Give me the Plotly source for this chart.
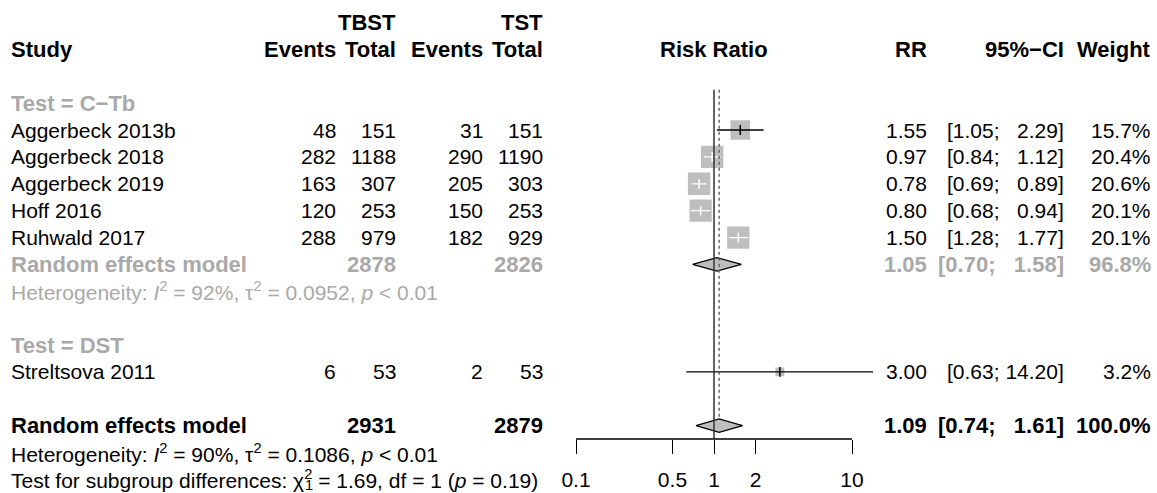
import plotly.graph_objects as go
import math

# ---------------- data ----------------
studies = ["Aggerbeck 2013b", "Aggerbeck 2018", "Aggerbeck 2019", "Hoff 2016",
           "Ruhwald 2017", "Streltsova 2011"]
groups = ["C−Tb", "C−Tb", "C−Tb", "C−Tb", "C−Tb", "DST"]
ev_tbst = [48, 282, 163, 120, 288, 6]
n_tbst = [151, 1188, 307, 253, 979, 53]
ev_tst = [31, 290, 205, 150, 182, 2]
n_tst = [151, 1190, 303, 253, 929, 53]
rr = [1.55, 0.97, 0.78, 0.80, 1.50, 3.00]
ci_lo = [1.05, 0.84, 0.69, 0.68, 1.28, 0.63]
ci_hi = [2.29, 1.12, 0.89, 0.94, 1.77, 14.20]
weight = [15.7, 20.4, 20.6, 20.1, 20.1, 3.2]

# subgroup random effects (only C−Tb has >1 study)
sub_names = ["C−Tb"]
sub_n_tbst = [2878]
sub_n_tst = [2826]
sub_rr = [1.05]
sub_lo = [0.70]
sub_hi = [1.58]
sub_w = [96.8]
sub_i2 = [92]
sub_tau2 = [0.0952]

# overall
tot_n_tbst = 2931
tot_n_tst = 2879
tot_rr = 1.09
tot_lo = 0.74
tot_hi = 1.61
tot_w = 100.0
tot_i2 = 90
tot_tau2 = 0.1086
test_chi2 = 1.69
test_df = 1
test_p = 0.19

tick_vals = [0.1, 0.5, 1, 2, 10]
tick_text = ["0.1", "0.5", "1", "2", "10"]

# ---------------- layout constants ----------------
W, H = 1157, 493
ROW0, ROWH = 22.5, 26.88          # pixel centre of row 0 and row height
X1_PX, PX_DEC = 714.0, 138.0      # pixel of RR = 1, pixels per decade
AXIS_PX = 439.0
FONT = "Liberation Sans, Arial, Helvetica, sans-serif"
FS = 21
FS_B = 22
GRAY_TXT = "#A9A9A9"
GRAY_FILL = "#BEBEBE"

COL_STUDY, COL_EV1, COL_N1, COL_EV2, COL_N2 = 10, 337, 397, 484, 544
COL_RR, COL_CI, COL_W = 928, 1065, 1152
CHI_SUB_PX = 304  # x of the stacked subscript under chi's superscript

SQ_K = 4.95  # square side (px) per sqrt(weight)
DIAM_H = 0.25  # diamond half height in rows

def px_to_row(p):
    return (p - ROW0) / ROWH

xr_lo, xr_hi = -1.25, 1.3
dom_lo = (X1_PX + xr_lo * PX_DEC) / W
dom_hi = (X1_PX + xr_hi * PX_DEC) / W

fig = go.Figure()
ann = []

def txt(text, xpx, row, anchor="left", bold=False, color="black", size=None):
    if size is None:
        size = FS_B if bold else FS
    if bold:
        text = f"<b>{text}</b>"
    ann.append(dict(text=text, x=xpx / W, xref="paper", y=row, yref="y",
                    xanchor=anchor, yanchor="middle", showarrow=False, borderpad=0,
                    font=dict(family=FONT, size=size, color=color)))

NB = "\u00a0"
maxw = max(len(f"{v:.2f}") for v in ci_hi + sub_hi + [tot_hi])

def fmt_ci(lo, hi):
    h = f"{hi:.2f}"
    pad = NB * (2 * (maxw - len(h)))
    return f"[{lo:.2f};{NB}{pad}{h}]"

# ---------------- headers ----------------
txt("TBST", COL_N1, 0, "right", True)
txt("TST", COL_N2, 0, "right", True)
txt("Study", COL_STUDY, 1, "left", True)
txt("Events", COL_EV1, 1, "right", True)
txt("Total", COL_N1, 1, "right", True)
txt("Events", COL_EV2, 1, "right", True)
txt("Total", COL_N2, 1, "right", True)
txt("Risk Ratio", X1_PX, 1, "center", True)
txt("RR", COL_RR, 1, "right", True)
txt("95%−CI", COL_CI, 1, "right", True)
txt("Weight", COL_W, 1, "right", True)

# ---------------- body ----------------
row = 3
study_rows = [None] * len(studies)
diamonds = []
first_row = row
for g in dict.fromkeys(groups):
    txt(f"Test = {g}", COL_STUDY, row, "left", True, GRAY_TXT)
    row += 1
    idx = [i for i, gg in enumerate(groups) if gg == g]
    for i in idx:
        study_rows[i] = row
        txt(studies[i], COL_STUDY, row)
        txt(str(ev_tbst[i]), COL_EV1, row, "right")
        txt(str(n_tbst[i]), COL_N1, row, "right")
        txt(str(ev_tst[i]), COL_EV2, row, "right")
        txt(str(n_tst[i]), COL_N2, row, "right")
        txt(f"{rr[i]:.2f}", COL_RR, row, "right")
        txt(fmt_ci(ci_lo[i], ci_hi[i]), COL_CI, row, "right")
        txt(f"{weight[i]:.1f}%", COL_W, row, "right")
        row += 1
    if g in sub_names:
        k = sub_names.index(g)
        txt("Random effects model", COL_STUDY, row, "left", True, GRAY_TXT)
        txt(str(sub_n_tbst[k]), COL_N1, row, "right", True, GRAY_TXT)
        txt(str(sub_n_tst[k]), COL_N2, row, "right", True, GRAY_TXT)
        txt(f"{sub_rr[k]:.2f}", COL_RR, row, "right", True, GRAY_TXT)
        txt(fmt_ci(sub_lo[k], sub_hi[k]), COL_CI, row, "right", True, GRAY_TXT)
        txt(f"{sub_w[k]:.1f}%", COL_W, row, "right", True, GRAY_TXT)
        diamonds.append((sub_lo[k], sub_rr[k], sub_hi[k], row))
        row += 1
        txt(f"Heterogeneity: <i>I</i><sup>2</sup> = {sub_i2[k]}%, τ<sup>2</sup> = {sub_tau2[k]:.4f}, <i>p</i> &lt; 0.01",
            COL_STUDY, row, "left", False, GRAY_TXT)
        row += 1
    row += 1

tot_row = row
txt("Random effects model", COL_STUDY, tot_row, "left", True)
txt(str(tot_n_tbst), COL_N1, tot_row, "right", True)
txt(str(tot_n_tst), COL_N2, tot_row, "right", True)
txt(f"{tot_rr:.2f}", COL_RR, tot_row, "right", True)
txt(fmt_ci(tot_lo, tot_hi), COL_CI, tot_row, "right", True)
txt(f"{tot_w:.1f}%", COL_W, tot_row, "right", True)
diamonds.append((tot_lo, tot_rr, tot_hi, tot_row))
txt(f"Heterogeneity: <i>I</i><sup>2</sup> = {tot_i2}%, τ<sup>2</sup> = {tot_tau2:.4f}, <i>p</i> &lt; 0.01",
    COL_STUDY, tot_row + 1)
txt(f"Test for subgroup differences: χ<sup>2</sup> = {test_chi2:.2f}, df = {test_df} (<i>p</i> = {test_p:.2f})",
    COL_STUDY, tot_row + 2)
txt(str(test_df), CHI_SUB_PX, tot_row + 2 + 0.2, "left", size=FS * 0.7)

axis_row = px_to_row(AXIS_PX)

# ---------------- reference lines ----------------
shapes = [
    dict(type="line", xref="x", yref="y", x0=1, x1=1, y0=first_row - 0.5, y1=axis_row,
         line=dict(color="#333333", width=1.5)),
    dict(type="line", xref="x", yref="y", x0=tot_rr, x1=tot_rr, y0=first_row - 0.5,
         y1=tot_row - DIAM_H, line=dict(color="#555555", width=1.3, dash="dot")),
    dict(type="line", xref="x", yref="y", x0=tick_vals[0], x1=tick_vals[-1],
         y0=axis_row, y1=axis_row, line=dict(color="black", width=1.3)),
]

# ---------------- diamonds ----------------
for lo, est, hi, r in diamonds:
    fig.add_trace(go.Scatter(x=[lo, est, hi, est, lo], y=[r, r - DIAM_H, r, r + DIAM_H, r],
                             mode="lines", fill="toself", fillcolor=GRAY_FILL,
                             line=dict(color="black", width=1.3), hoverinfo="skip",
                             showlegend=False))

# ---------------- squares and CIs ----------------
for i in range(len(studies)):
    side = SQ_K * math.sqrt(weight[i])
    half = side / 2 / PX_DEC
    le = math.log10(rr[i])
    inside = math.log10(ci_lo[i]) >= le - half and math.log10(ci_hi[i]) <= le + half
    col = "white" if inside else "black"
    r = study_rows[i]
    fig.add_trace(go.Scatter(x=[rr[i]], y=[r], mode="markers",
                             marker=dict(symbol="square", size=side, color=GRAY_FILL,
                                         line=dict(width=0)),
                             hoverinfo="skip", showlegend=False))
    fig.add_trace(go.Scatter(x=[ci_lo[i], ci_hi[i]], y=[r, r], mode="lines",
                             line=dict(color=col, width=1.3), hoverinfo="skip",
                             showlegend=False))
    fig.add_trace(go.Scatter(x=[rr[i]], y=[r], mode="markers",
                             marker=dict(symbol="line-ns", size=7,
                                         line=dict(color=col, width=1.5)),
                             hoverinfo="skip", showlegend=False))

fig.update_layout(
    width=W, height=H,
    margin=dict(l=0, r=0, t=0, b=0),
    paper_bgcolor="white", plot_bgcolor="white",
    annotations=ann, shapes=shapes,
    xaxis=dict(type="log", range=[xr_lo, xr_hi], domain=[dom_lo, dom_hi],
               anchor="free", position=(H - AXIS_PX) / H,
               tickvals=tick_vals, ticktext=tick_text, ticks="outside", ticklen=14,
               tickwidth=1.3, tickcolor="black", showline=False, showgrid=False,
               zeroline=False, ticklabelstandoff=8,
               tickfont=dict(family=FONT, size=FS, color="black"),
               fixedrange=True),
    yaxis=dict(range=[px_to_row(H), px_to_row(0)], domain=[0, 1], visible=False,
               fixedrange=True),
    showlegend=False,
)

fig.write_html("out.html", config={"displayModeBar": False},
               post_script=["document.body.style.margin='0';document.body.style.overflow='hidden';"])
